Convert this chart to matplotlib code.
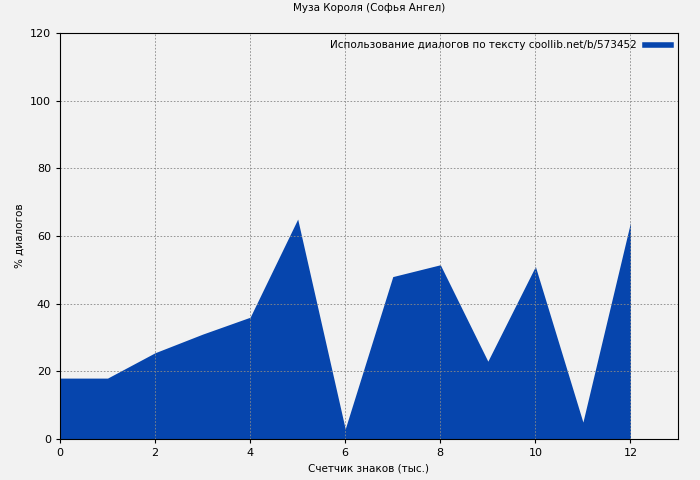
import matplotlib
matplotlib.use('Agg')
import matplotlib.pyplot as plt
from matplotlib.lines import Line2D

x_vals = [0, 1, 2, 3, 4, 5, 6, 7, 8, 9, 10, 11, 12]
dialog_pct = [18, 18, 25.5, 31, 36, 65, 3, 48, 51.5, 23, 51, 5, 64]

color = '#0645ad'
bg = '#f2f2f2'

fig = plt.figure(figsize=(7, 4.8), dpi=100, facecolor=bg)
ax = fig.add_axes([60/700, 1 - 439/480, 618/700, 406/480], facecolor=bg)

ax.fill_between(x_vals, dialog_pct, 0, color=color, linewidth=0)
ax.set_xlim(0, 13)
ax.set_ylim(0, 120)
ax.set_xticks(range(0, 13, 2))
ax.set_yticks(range(0, 121, 20))
ax.grid(True, color='#888888', linestyle=(0, (2, 2)), linewidth=0.6)
ax.tick_params(labelsize=8, length=3)

ax.set_title('Муза Короля (Софья Ангел)', fontsize=7.5, pad=16)
ax.set_xlabel('Счетчик знаков (тыс.)', fontsize=7.5)
ax.set_ylabel('% диалогов', fontsize=7.5)

handle = Line2D([0], [0], color=color, linewidth=4)
leg = ax.legend([handle], ['Использование диалогов по тексту coollib.net/b/573452'],
                loc='upper right', fontsize=7.5, frameon=False,
                markerfirst=False, handlelength=2.5, borderaxespad=0.3)

fig.savefig('out.png', dpi=100, facecolor=bg)
